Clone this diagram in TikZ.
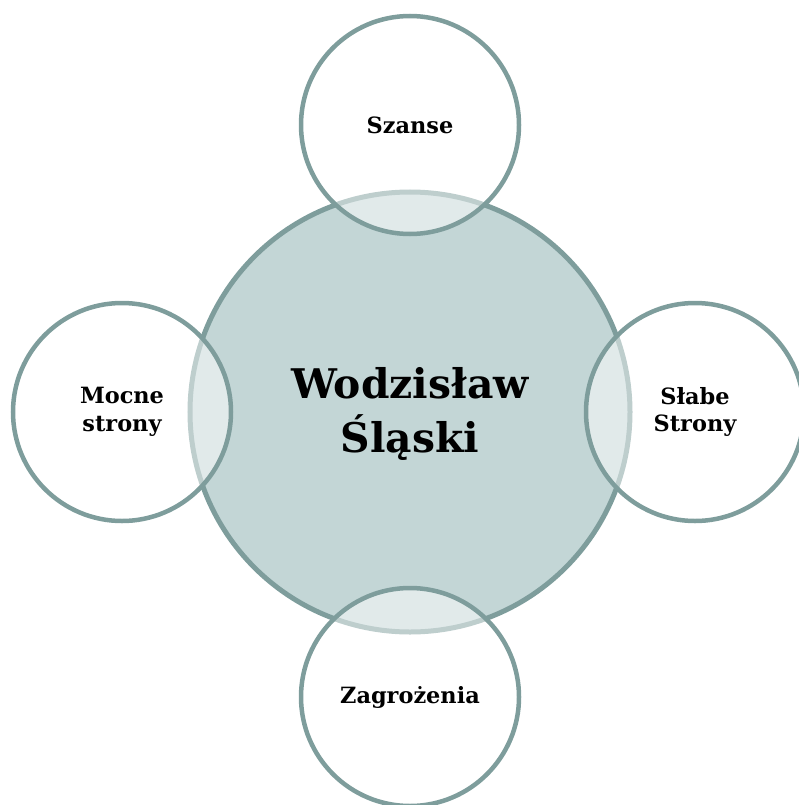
\documentclass[tikz,border=0pt]{standalone}
\usepackage{fontspec}
\setmainfont{DejaVu Serif}
\definecolor{ring}{RGB}{126,157,156}
\definecolor{core}{RGB}{195,214,214}
\tikzset{
  corecircle/.style={circle, draw=ring, fill=core, line width=5bp, minimum size=440bp, inner sep=0pt},
  sat/.style={circle, draw=ring, fill=white, fill opacity=0.5, text opacity=1, line width=4.5bp, minimum size=218bp, inner sep=0pt, align=center, font=\bfseries\fontsize{22.5}{28}\selectfont},
  maintext/.style={align=center, font=\bfseries\fontsize{41}{55}\selectfont}
}
\begin{document}
\begin{tikzpicture}[x=1bp,y=-1bp]
\useasboundingbox (0,0) rectangle (799,805);
\node[corecircle] (core) at (410,412) {};
\node[maintext] (coretext) at (410,414) {Wodzisław\\Śląski};
\node[sat] (top) at (410,125) {Szanse};
\node[sat] (left) at (122,412) {Mocne\\strony};
\node[sat] (right) at (695,412) {Słabe\\Strony};
\node[sat] (bottom) at (410,697) {Zagrożenia};
\end{tikzpicture}
\end{document}
